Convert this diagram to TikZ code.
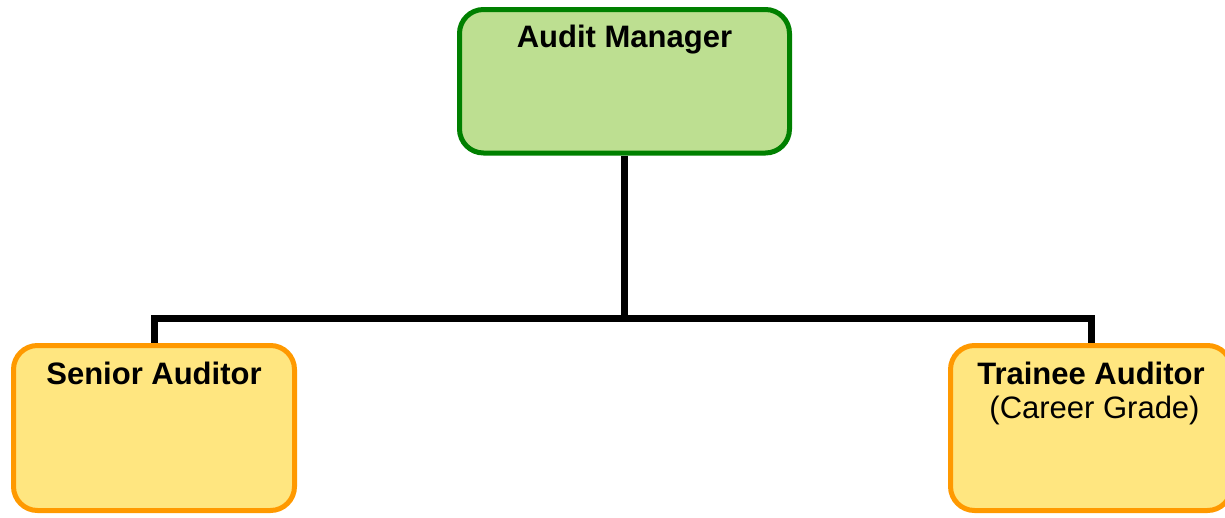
\documentclass[tikz,border=0pt]{standalone}
\usepackage{fontspec}
\setmainfont{Liberation Sans}
\definecolor{mgrfill}{HTML}{BDDF91}
\definecolor{mgrline}{HTML}{008000}
\definecolor{audfill}{HTML}{FFE680}
\definecolor{audline}{HTML}{FF9900}
\begin{document}
\begin{tikzpicture}[x=1pt,y=-1pt,
  box/.style={draw, rectangle, rounded corners=24pt, line width=5pt, inner sep=0pt},
  mgrbox/.style={box, draw=mgrline, fill=mgrfill},
  audbox/.style={box, draw=audline, fill=audfill},
  conn/.style={draw=black, line width=7pt},
  lbl/.style={anchor=base, inner sep=0pt, font=\fontsize{31}{35}\selectfont}]
\useasboundingbox (0,0) rectangle (1225,517);
\node[mgrbox, minimum width=330pt, minimum height=143.5pt] (am) at (624.5,81.25) {};
\node[audbox, minimum width=281pt, minimum height=165pt] (sa) at (154,428) {};
\node[audbox, minimum width=281pt, minimum height=165pt] (ta) at (1091,428) {};
\coordinate (j) at (624.5,318);
\draw[conn] (am.south) -- (j) -| (sa.north);
\draw[conn] (j) -| (ta.north);
\node[lbl, font=\fontsize{31}{35}\selectfont\bfseries] (amt) at (624.5,47) {Audit Manager};
\node[lbl, font=\fontsize{31}{35}\selectfont\bfseries] (sat) at (154,384) {Senior Auditor};
\node[lbl, font=\fontsize{31}{35}\selectfont\bfseries] (tat) at (1091,384) {Trainee Auditor};
\node[lbl] (tag) at (1094.5,418) {(Career Grade)};
\end{tikzpicture}
\end{document}
